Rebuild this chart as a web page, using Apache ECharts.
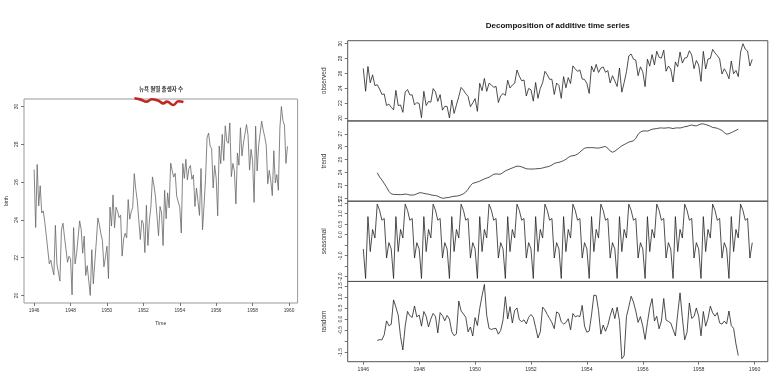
<!DOCTYPE html>
<html><head><meta charset="utf-8">
<script src="https://cdn.jsdelivr.net/npm/echarts@6/dist/echarts.min.js"></script>
<style>html,body{margin:0;padding:0;background:#fff}#c{width:772px;height:377px}</style>
</head><body><div id="c"></div>
<script>
const startYear = 1946;
const births = [
26.663,23.598,26.931,24.740,25.806,24.364,24.477,23.901,23.175,23.227,21.672,21.870,
21.439,21.089,23.709,21.669,21.752,20.761,23.479,23.824,23.105,23.110,21.759,22.073,
21.937,20.035,23.590,21.672,22.222,22.123,23.950,23.504,22.238,23.142,21.059,21.573,
21.548,20.000,22.424,20.615,21.761,22.874,24.104,23.748,23.262,22.907,21.519,22.025,
22.604,20.894,24.677,23.673,25.320,23.583,24.671,24.454,24.122,24.252,22.084,22.991,
23.287,23.049,25.076,24.037,24.430,24.667,26.451,25.618,25.014,25.110,22.964,23.981,
23.798,22.270,24.775,22.646,23.988,24.737,26.276,25.816,25.210,25.199,23.162,24.707,
24.364,22.644,25.565,24.062,25.431,24.635,27.009,26.606,26.268,26.462,25.246,25.180,
24.657,23.304,26.982,26.199,27.210,26.122,26.706,26.878,26.152,26.379,24.712,25.688,
24.990,24.239,26.721,23.475,24.767,26.219,28.361,28.599,27.914,27.784,25.693,26.881,
26.217,24.218,27.914,26.975,28.527,27.139,28.982,28.169,28.056,29.136,26.291,26.987,
26.589,24.848,27.543,26.896,28.878,27.390,28.065,28.141,29.048,28.484,26.634,27.735,
27.132,24.924,28.963,26.589,27.931,28.009,29.229,28.759,28.405,27.945,25.912,26.619,
26.076,25.286,27.660,25.951,26.398,25.565,28.865,30.000,29.261,29.012,26.992,27.897];
// trend starts July 1946 (index 6)
const trendStart = 6;
const trend = [
23.9843,23.6621,23.4233,23.1611,22.8643,22.5452,
22.3535,22.3087,22.3026,22.2948,22.2935,22.3056,22.3348,22.3117,22.2628,22.2580,22.2777,22.3540,
22.4304,22.4367,22.3872,22.3524,22.3246,22.2746,22.2375,22.2199,22.1698,22.0772,22.0140,22.0260,
22.0638,22.0803,22.1332,22.1660,22.1754,22.2134,22.2763,22.3575,22.4886,22.7099,22.9856,23.1635,
23.2166,23.2697,23.3349,23.4268,23.5064,23.5702,23.6389,23.7571,23.8635,23.8953,23.8734,23.8815,
24.0008,24.1235,24.2092,24.2821,24.3545,24.4324,24.4950,24.4838,24.4388,24.3683,24.2919,24.2764,
24.2720,24.2730,24.2894,24.3013,24.3133,24.3518,24.4056,24.4448,24.4933,24.5852,24.7043,24.7602,
24.7865,24.8499,24.9269,25.0236,25.1631,25.2696,25.3015,25.3413,25.4278,25.5759,25.7390,25.8751,
25.9245,25.9232,25.9297,25.9214,25.8957,25.8946,25.9296,25.9825,26.0105,25.8862,25.6709,25.5731,
25.6461,25.7868,25.9319,26.0639,26.1633,26.2539,26.3547,26.4050,26.4538,26.6493,26.9518,27.1468,
27.2110,27.2190,27.2070,27.2693,27.3505,27.3798,27.3998,27.4415,27.4523,27.4335,27.4449,27.4700,
27.4422,27.4028,27.4430,27.4572,27.4443,27.4898,27.5435,27.5693,27.6317,27.6780,27.6258,27.6121,
27.6864,27.7607,27.7596,27.7104,27.6578,27.5813,27.4908,27.4618,27.4226,27.3418,27.2513,27.0856,
26.9686,27.0051,27.0925,27.1726,27.2621,27.3603];
// monthly seasonal figure Jan..Dec
const seasonalFigure = [-0.6772,-2.0830,0.8625,-0.8017,0.2517,-0.1533,1.4560,1.1646,0.6916,0.7752,-1.1098,-0.3768];
const randomPart = [
-0.9633,-0.9257,-0.9399,-0.7093,-0.0825,-0.2984,
-0.2373,0.8633,0.5439,0.1759,-0.7932,-1.3913,-0.3118,0.3477,0.1506,0.0768,0.5911,0.0958,
0.1838,-0.3187,0.3403,0.1213,-0.3543,0.0017,0.2565,0.1195,-0.6234,0.2896,0.1548,-0.0762,
0.1614,0.0027,-0.5717,-0.7493,-0.6661,0.8139,0.3717,0.2259,0.0818,-0.5781,-0.3568,-0.7617,
0.0646,-0.2927,0.4796,1.0479,1.5619,0.1661,-0.4239,-0.4677,-0.4331,-0.4185,-0.6796,-0.5137,
-0.0366,1.0085,0.0043,0.5566,-0.1762,0.3879,0.5000,-0.0304,-0.1164,-0.0335,-0.2181,0.0814,
0.2032,0.0800,-0.3769,-0.8536,-0.5770,0.5385,0.4144,0.2066,0.0251,-0.1614,-0.4325,0.3236,
0.2547,-0.1229,-0.2244,-0.1599,0.0162,-0.4813,0.2515,0.1001,0.1486,0.1109,0.6168,-0.3183,
-0.5903,-0.5362,0.1898,1.0793,1.0626,0.3807,-0.6796,-0.2691,-0.5501,-0.2824,0.1509,0.4917,
0.0211,0.5352,-0.0734,-1.7872,-1.6480,0.1184,0.5503,1.0294,0.7686,0.3595,-0.1490,0.1110,
-0.3168,-0.9180,-0.1555,0.5074,0.9248,-0.0875,0.1262,-0.4371,-0.0879,0.9273,-0.0441,-0.1062,
-0.1760,-0.4718,-0.7625,0.2405,1.1820,0.0535,-0.9345,-0.5929,0.7247,0.0308,0.1180,0.4997,
0.1228,-0.7537,0.3409,-0.3197,0.0215,0.5810,0.2822,0.1326,0.2908,-0.1720,-0.2295,-0.0898,
-0.2154,0.3639,-0.2950,-0.4199,-1.1158,-1.6420];
const yearTicks = [1946,1948,1950,1952,1954,1956,1958,1960];
const obsTicks = [20,22,24,26,28,30];
const trendTicks = [22,23,24,25,26,27];
const seasTicks = [-2,-1.5,-1,-0.5,0,0.5,1,1.5];
const seasLabels = [-2,-1,0,0.5,1,1.5];
const randTicks = [-1.5,-1,-0.5,0,0.5,1,1.5];
const randLabels = [-1.5,-0.5,0,0.5,1,1.5];
// red squiggle annotation under the left title (year, value)
const squiggleX = [1951.51,1951.82,1952.19,1952.46,1952.83,1953.10,1953.29,1953.65,1953.92,1954.20];
const squiggleY = [30.44,30.38,30.26,30.39,30.31,30.17,30.26,30.08,30.28,30.24];

const t = i => startYear + i / 12;
const obsData = births.map((v, i) => [t(i), v]);
const trendData = trend.map((v, i) => [t(i + trendStart), v]);
const seasData = births.map((_, i) => [t(i), seasonalFigure[i % 12]]);
const randData = randomPart.map((v, i) => [t(i + trendStart), v]);
const squiggle = squiggleX.map((x, i) => [x, squiggleY[i]]);

const FONT = 'Liberation Sans';
const TXT = '#333';
const xMin = 1945.443, xMax = 1960.473;
const RL = 347.7, RW = 420.1, PH = 80.25;
const tops = [40.7, 40.7 + PH, 40.7 + 2 * PH, 40.7 + 3 * PH];

function xAx(grid, showLabels, fs) {
  return {
    type: 'value', gridIndex: grid, min: xMin, max: xMax,
    axisLine: { show: false, onZero: false }, splitLine: { show: false },
    axisTick: { show: showLabels, length: 3, customValues: yearTicks, lineStyle: { color: '#555', width: 0.8 } },
    axisLabel: { show: showLabels, customValues: yearTicks, margin: 5, fontSize: fs, color: TXT, fontFamily: FONT, formatter: v => String(Math.round(v)) },
    name: grid === 0 ? 'Time' : '', nameLocation: 'middle', nameGap: 18,
    nameTextStyle: { fontSize: 5, color: TXT, fontFamily: FONT }
  };
}
function yAx(grid, min, max, ticks, labels, name, fmt, gap) {
  return {
    type: 'value', gridIndex: grid, min: min, max: max,
    axisLine: { show: false, onZero: false }, splitLine: { show: false },
    axisTick: { show: true, length: 3, customValues: ticks, lineStyle: { color: '#555', width: 0.8 } },
    axisLabel: { customValues: labels, rotate: 90, margin: 5, fontSize: 5, color: TXT, fontFamily: FONT, formatter: fmt },
    name: name, nameLocation: 'middle', nameRotate: 90, nameGap: gap,
    nameTextStyle: { fontSize: grid === 0 ? 5 : 6.5, color: TXT, fontFamily: FONT }
  };
}
const f0 = v => String(Math.round(v));
const f1 = v => v.toFixed(1);

const lineS = (data, xi, color, w) => ({
  type: 'line', data: data, xAxisIndex: xi, yAxisIndex: xi, symbol: 'none',
  lineStyle: { color: color, width: w }, silent: true
});

const chart = echarts.init(document.getElementById('c'), null, { renderer: 'canvas' });
chart.setOption({
  animation: false,
  backgroundColor: '#fff',
  grid: [
    { left: 24, top: 99, width: 273.6, height: 204, show: true, borderColor: '#999', borderWidth: 1, backgroundColor: 'transparent' },
    { left: RL, top: tops[0], width: RW, height: PH, show: true, borderColor: '#555', borderWidth: 1, backgroundColor: 'transparent' },
    { left: RL, top: tops[1], width: RW, height: PH, show: true, borderColor: '#555', borderWidth: 1, backgroundColor: 'transparent' },
    { left: RL, top: tops[2], width: RW, height: PH, show: true, borderColor: '#555', borderWidth: 1, backgroundColor: 'transparent' },
    { left: RL, top: tops[3], width: RW, height: PH, show: true, borderColor: '#555', borderWidth: 1, backgroundColor: 'transparent' }
  ],
  xAxis: [xAx(0, true, 4.8), xAx(1, false, 5), xAx(2, false, 5), xAx(3, false, 5), xAx(4, true, 5.2)],
  yAxis: [
    yAx(0, 19.6, 30.4, obsTicks, obsTicks, 'birth', f0, 15),
    yAx(1, 19.6, 30.4, obsTicks, obsTicks, 'observed', f0, 20),
    yAx(2, 21.7841, 27.9906, trendTicks, trendTicks, 'trend', f0, 20),
    yAx(3, -2.2245, 1.5976, seasTicks, seasLabels, 'seasonal', f1, 20),
    yAx(4, -1.9212, 1.6959, randTicks, randLabels, 'random', f1, 20)
  ],
  graphic: [
    { type: 'text', x: 161, y: 89, style: { text: '뉴욕 월별 출생자 수', fontSize: 5.5, fontWeight: 'bold', fontFamily: 'Noto Sans CJK KR', fill: '#333', textAlign: 'center', textVerticalAlign: 'middle' } },
    { type: 'text', x: 557.8, y: 25.5, style: { text: 'Decomposition of additive time series', fontSize: 8, fontWeight: 'bold', fontFamily: FONT, fill: '#111', textAlign: 'center', textVerticalAlign: 'middle' } }
  ],
  series: [
    lineS(obsData, 0, '#666', 0.8),
    Object.assign(lineS(squiggle, 0, '#c0271f', 2.6), { smooth: true, clip: false, z: 5 }),
    lineS(obsData, 1, '#222', 0.8),
    lineS(trendData, 2, '#222', 0.8),
    lineS(seasData, 3, '#222', 0.8),
    lineS(randData, 4, '#222', 0.8)
  ]
});
</script></body></html>
